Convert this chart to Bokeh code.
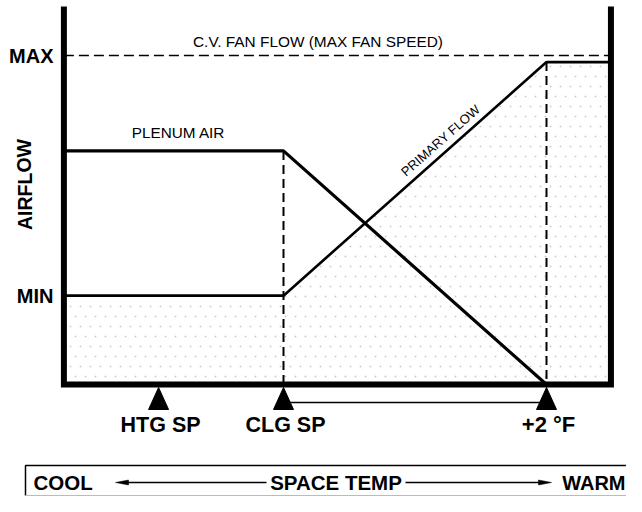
import numpy as np
from bokeh.plotting import figure
from bokeh.models import Range1d, Label
from bokeh.embed import file_html
from bokeh.resources import INLINE

# ---------------- data ----------------
setpoint_labels = ["HTG SP", "CLG SP", "+2 °F"]
setpoint_temps = [-0.95, 0.0, 2.0]          # °F relative to the cooling set point
level_labels = ["MIN", "MAX"]
level_values = [27, 100]                     # % airflow
fan_flow = 100                               # C.V. fan flow (max fan speed), %
t_left, t_right = -1.67, 2.49                # diagram walls (temperature axis)
primary_temp = [t_left, 0.0, 2.0, t_right]
primary_flow = [27, 27, 98, 98]
plenum_temp = [t_left, 0.0, 2.0]
plenum_flow = [71, 71, 0]

# ---------------- layout (figure pixels -> data) ----------------
W, H = 626, 496
X0, Y0, SX, SY = 283.0, 384.0, 131.5, 3.29


def dx(px):
    return (px - X0) / SX


def dy(py):
    return (Y0 - py) / SY


FONT = "Liberation Sans"

p = figure(width=W, height=H, x_range=Range1d(dx(0), dx(W)),
           y_range=Range1d(dy(H), dy(0)), x_axis_type=None, y_axis_type=None,
           min_border=0, toolbar_location=None, output_backend="svg")
p.grid.visible = False
p.outline_line_color = None
p.background_fill_color = "white"

# dotted texture under the primary flow curve (staggered 10 px grid)
gx, gy = [], []
for r, yy in enumerate(np.arange(66, 380, 10)):
    off = 0 if r % 2 == 0 else 5
    for xx in np.arange(70 + off, 606, 10):
        tx, fy = dx(xx), dy(yy)
        if fy < np.interp(tx, primary_temp, primary_flow) - 1.5 / SY:
            gx.append(tx)
            gy.append(fy)
p.scatter(gx, gy, marker="square", size=1.6, fill_color="#c6c6c6",
          line_color=None)

# C.V. fan flow dashed line
p.line([t_left, t_right], [fan_flow, fan_flow], line_color="black",
       line_width=1.7, line_dash="10 5")

# vertical dashed guides
p.line([setpoint_temps[1]] * 2, [plenum_flow[1], 0], line_color="black",
       line_width=2, line_dash="9 5")
p.line([setpoint_temps[2]] * 2, [primary_flow[2], 0], line_color="black",
       line_width=2, line_dash="9 5")

# curves
p.line(plenum_temp, plenum_flow, line_color="black", line_width=3.2)
p.line(primary_temp, primary_flow, line_color="black", line_width=2.6)

# frame walls (U shape)
p.line([t_left, t_left, t_right, t_right], [dy(6), 0, 0, dy(6)],
       line_color="black", line_width=6, line_join="miter")

# dimension line CLG SP -> +2 °F
p.line([setpoint_temps[1], setpoint_temps[2]], [dy(402), dy(402)],
       line_color="black", line_width=1.5)

# set point triangles
hw = 10 / SX
p.patches([[t - hw, t + hw, t] for t in setpoint_temps],
          [[dy(409), dy(409), dy(387)] for _ in setpoint_temps],
          fill_color="black", line_color="black", line_width=1)


def lab(text, x, y, size, bold=True, align="center", angle=0.0):
    p.add_layout(Label(x=x, y=y, text=text, text_font=FONT,
                       text_font_size=f"{size}px",
                       text_font_style="bold" if bold else "normal",
                       text_align=align, text_baseline="middle",
                       text_color="black", angle=angle))


for name, v in zip(level_labels, level_values):
    lab(name, dx(53), v, 20, align="right")
lab("AIRFLOW", dx(24), dy(184), 19.5, angle=1.5708)
lab("C.V. FAN FLOW (MAX FAN SPEED)", dx(317.5), dy(41), 15.4, bold=False)
lab("PLENUM AIR", dx(178), dy(132), 15.3, bold=False)
lab("PRIMARY FLOW", dx(440), dy(140), 13, bold=False, angle=0.722)
for name, t, sz in zip(setpoint_labels, setpoint_temps, [21.5, 21.5, 22]):
    lab(name, t + 2 / SX, dy(424), sz)

# bottom legend box (kept inside the figure)
BOX_TOP, BOX_MID, BOX_BOT = 465, 482, 495
p.line([dx(25), dx(25), dx(W + 2)], [dy(BOX_BOT), dy(BOX_TOP), dy(BOX_TOP)],
       line_color="black", line_width=1.5)
p.line([dx(25), dx(W + 2)], [dy(BOX_BOT), dy(BOX_BOT)], line_color="#bbbbbb",
       line_width=1)
lab("COOL", dx(33), dy(BOX_MID), 20.5, align="left")
lab("SPACE TEMP", dx(335.5), dy(BOX_MID), 20.5)
lab("WARM", dx(625), dy(BOX_MID), 20, align="right")
# arrows
p.line([dx(266), dx(125)], [dy(BOX_MID), dy(BOX_MID)], line_color="black",
       line_width=1.3)
p.line([dx(405), dx(541)], [dy(BOX_MID), dy(BOX_MID)], line_color="black",
       line_width=1.3)
p.patches([[dx(115), dx(128), dx(128)], [dx(551), dx(538), dx(538)]],
          [[dy(BOX_MID), dy(BOX_MID - 2.5), dy(BOX_MID + 2.5)],
           [dy(BOX_MID), dy(BOX_MID - 2.5), dy(BOX_MID + 2.5)]],
          fill_color="black", line_color="black", line_width=0.5)

open("out.html", "w").write(file_html(p, INLINE))
